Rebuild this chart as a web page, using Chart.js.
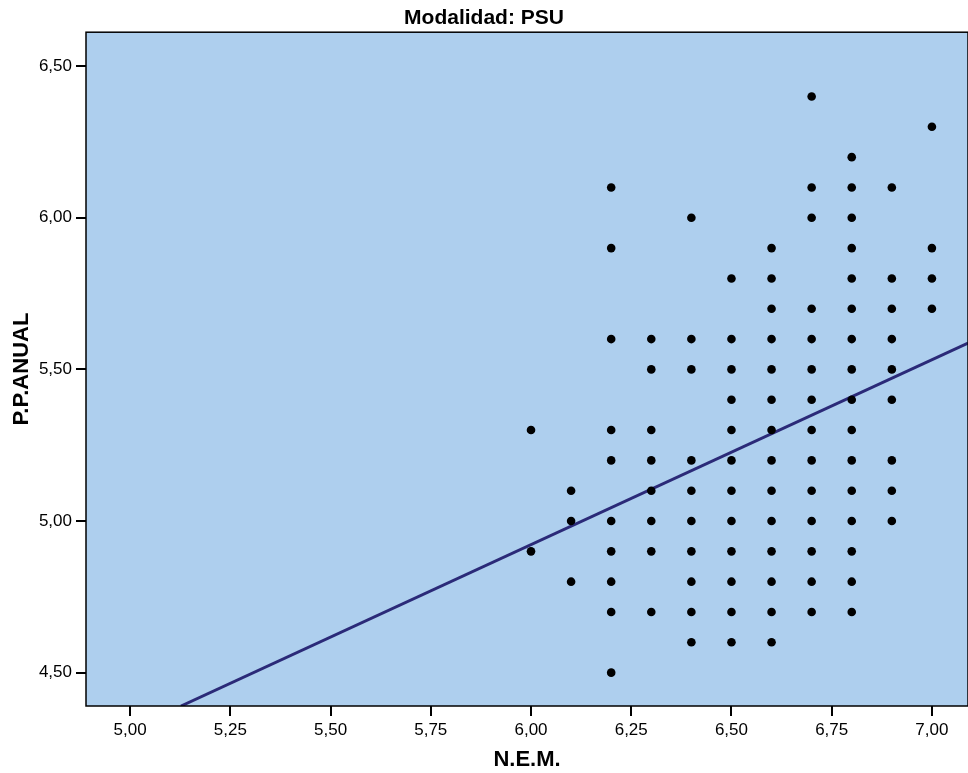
<!DOCTYPE html>
<html>
<head>
<meta charset="utf-8">
<script src="https://cdn.jsdelivr.net/npm/chart.js@4.4.1/dist/chart.umd.min.js"></script>
<style>
    body { margin: 0; background: #fff; overflow: hidden; }
    #wrap { width: 968px; height: 773px; }
</style>
</head>
<body>
<div id="wrap"><canvas id="scatter"></canvas></div>
<script>
// N.E.M. levels and the P.P.ANUAL values seen at each level
const nemLevels = [6.0, 6.1, 6.2, 6.3, 6.4, 6.5, 6.6, 6.7, 6.8, 6.9, 7.0];
const ppByNem = [
    [5.3, 4.9],
    [5.1, 5.0, 4.8],
    [6.1, 5.9, 5.6, 5.3, 5.2, 5.0, 4.9, 4.8, 4.7, 4.5],
    [5.6, 5.5, 5.3, 5.2, 5.1, 5.0, 4.9, 4.7],
    [6.0, 5.6, 5.5, 5.2, 5.1, 5.0, 4.9, 4.8, 4.7, 4.6],
    [5.8, 5.6, 5.5, 5.4, 5.3, 5.2, 5.1, 5.0, 4.9, 4.8, 4.7, 4.6],
    [5.9, 5.8, 5.7, 5.6, 5.5, 5.4, 5.3, 5.2, 5.1, 5.0, 4.9, 4.8, 4.7, 4.6],
    [6.4, 6.1, 6.0, 5.7, 5.6, 5.5, 5.4, 5.3, 5.2, 5.1, 5.0, 4.9, 4.8, 4.7],
    [6.2, 6.1, 6.0, 5.9, 5.8, 5.7, 5.6, 5.5, 5.4, 5.3, 5.2, 5.1, 5.0, 4.9, 4.8, 4.7],
    [6.1, 5.8, 5.7, 5.6, 5.5, 5.4, 5.2, 5.1, 5.0],
    [6.3, 5.9, 5.8, 5.7]
];

// fit line end points
const fitX = [5.127, 7.09];
const fitY = [4.39, 5.587];

const xTicks = [5.00, 5.25, 5.50, 5.75, 6.00, 6.25, 6.50, 6.75, 7.00];
const yTicks = [4.50, 5.00, 5.50, 6.00, 6.50];

const FONT = "'Liberation Sans', Arial, sans-serif";

const points = [];
nemLevels.forEach((nem, i) => {
    ppByNem[i].forEach(pp => points.push({ x: nem, y: pp }));
});
const fitLine = fitX.map((x, i) => ({ x: x, y: fitY[i] }));

const fmt = v => Number(v).toFixed(2).replace('.', ',');

// light blue plot background and the frame around it
const plotFrame = {
    id: 'plotFrame',
    beforeDatasetsDraw(chart) {
        const a = chart.chartArea;
        const ctx = chart.ctx;
        ctx.save();
        ctx.fillStyle = 'rgb(174,207,238)';
        ctx.fillRect(a.left, a.top, a.right - a.left, a.bottom - a.top);
        ctx.restore();
    },
    afterDraw(chart) {
        const a = chart.chartArea;
        const ctx = chart.ctx;
        ctx.save();
        ctx.strokeStyle = '#000';
        ctx.lineWidth = 1.5;
        ctx.strokeRect(a.left, a.top, a.right - a.left, a.bottom - a.top);
        ctx.restore();
    }
};

new Chart(document.getElementById('scatter'), {
    type: 'scatter',
    data: {
        datasets: [{
            label: 'P.P.ANUAL',
            data: points,
            pointRadius: 4.3,
            pointBorderWidth: 0,
            backgroundColor: '#000',
            borderColor: '#000'
        }, {
            type: 'line',
            label: 'Ajuste',
            data: fitLine,
            showLine: true,
            pointRadius: 0,
            borderColor: '#2b2a78',
            borderWidth: 3,
            fill: false
        }]
    },
    options: {
        responsive: true,
        maintainAspectRatio: false,
        animation: false,
        layout: { padding: 0, autoPadding: false },
        plugins: {
            legend: { display: false },
            tooltip: { enabled: false },
            title: {
                display: true,
                text: 'Modalidad: PSU',
                color: '#000',
                font: { family: FONT, size: 21, weight: 'bold' },
                padding: { top: 6, bottom: 1 }
            }
        },
        scales: {
            x: {
                type: 'linear',
                min: 4.89,
                max: 7.09,
                afterBuildTicks: s => { s.ticks = xTicks.map(v => ({ value: v })); },
                afterFit: s => {
                    s.height = 67;
                    s.paddingLeft = 0;
                    s.paddingRight = 0;
                },
                ticks: {
                    color: '#000',
                    padding: 4,
                    font: { family: FONT, size: 17 },
                    callback: v => fmt(v)
                },
                grid: {
                    drawOnChartArea: false,
                    drawTicks: true,
                    tickLength: 10,
                    color: '#000',
                    lineWidth: 2
                },
                border: { display: false },
                title: {
                    display: true,
                    text: 'N.E.M.',
                    color: '#000',
                    font: { family: FONT, size: 22, weight: 'bold' },
                    padding: { top: 0, bottom: 0 }
                }
            },
            y: {
                type: 'linear',
                min: 4.39,
                max: 6.612,
                afterBuildTicks: s => { s.ticks = yTicks.map(v => ({ value: v })); },
                afterFit: s => {
                    s.width = 86;
                    s.paddingTop = 0;
                    s.paddingBottom = 0;
                },
                ticks: {
                    color: '#000',
                    padding: 4,
                    font: { family: FONT, size: 17 },
                    callback: v => fmt(v)
                },
                grid: {
                    drawOnChartArea: false,
                    drawTicks: true,
                    tickLength: 10,
                    color: '#000',
                    lineWidth: 2
                },
                border: { display: false },
                title: {
                    display: true,
                    text: 'P.P.ANUAL',
                    color: '#000',
                    font: { family: FONT, size: 22, weight: 'bold' },
                    padding: { top: 9, bottom: 0 }
                }
            }
        }
    },
    plugins: [plotFrame]
});
</script>
</body>
</html>
